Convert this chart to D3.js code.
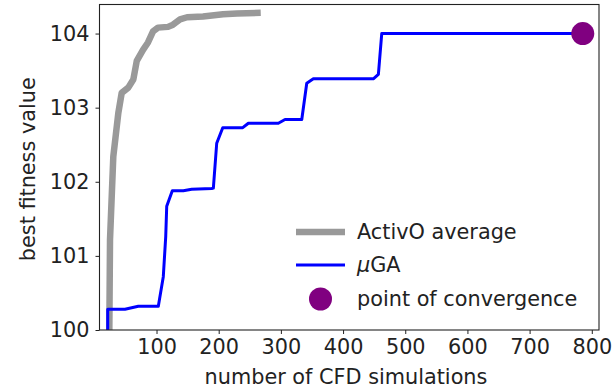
<!DOCTYPE html>
<html>
<head>
<meta charset="utf-8">
<script src="https://cdn.jsdelivr.net/npm/d3@7"></script>
<style>
  html, body { margin: 0; padding: 0; background: #fff; }
  svg { display: block; font-family: "DejaVu Sans", sans-serif; }
</style>
</head>
<body>
<svg id="chart" width="613" height="389"></svg>
<script>
// ActivO average: best fitness vs. number of CFD simulations
const activoX = [24.1, 25.2, 30.5, 38.6, 44.0, 54.6, 62.7, 68.2, 78.3, 86.3, 94.4, 102.4, 118.5, 126.5, 137.8, 149.1, 174.8, 207.0, 229.5, 267.6];
const activoY = [100, 101.22, 102.34, 102.93, 103.2, 103.27, 103.38, 103.63, 103.78, 103.88, 104.03, 104.08, 104.09, 104.12, 104.19, 104.22, 104.23, 104.26, 104.27, 104.28];

// micro-GA best fitness history
const mugaX = [21.5, 21.5, 49.3, 70.7, 102.9, 110.9, 114.8, 116.4, 125.4, 143.1, 156.6, 188.8, 191.4, 196.8, 206.5, 238.7, 247.7, 295.9, 306.7, 333.6, 341.6, 352.2, 448.7, 456.8, 462.2, 785.5];
const mugaY = [100, 100.28, 100.28, 100.32, 100.32, 100.72, 101.26, 101.67, 101.88, 101.88, 101.90, 101.91, 101.915, 102.52, 102.73, 102.73, 102.79, 102.79, 102.84, 102.84, 103.33, 103.39, 103.39, 103.45, 104.0, 104.0];

// convergence point of the micro-GA
const convergenceX = [785.5];
const convergenceY = [104.0];

const xTicks = [100, 200, 300, 400, 500, 600, 700, 800];
const yTicks = [100, 101, 102, 103, 104];
const legendLabels = ["ActivO average", "\u03BCGA", "point of convergence"];

const svg = d3.select("#chart");
const plotLeft = 99.5, plotRight = 599, plotTop = 4.5, plotBottom = 330;
const fontSize = "20.8px";

const x = d3.scaleLinear().domain([8.3, 811.6]).range([plotLeft, plotRight]);
const y = d3.scaleLinear().domain([100, 104.392]).range([plotBottom, plotTop]);

svg.append("defs").append("clipPath").attr("id", "plotclip")
  .append("rect").attr("x", plotLeft).attr("y", plotTop)
  .attr("width", plotRight - plotLeft).attr("height", plotBottom - plotTop);

const plot = svg.append("g").attr("clip-path", "url(#plotclip)");

const line = d3.line().x(d => x(d[0])).y(d => y(d[1]));

plot.append("path")
  .datum(activoX.map((v, i) => [v, activoY[i]]))
  .attr("d", line)
  .attr("fill", "none")
  .attr("stroke", "#999999")
  .attr("stroke-width", 6.5)
  .attr("stroke-linejoin", "round")
  .attr("stroke-linecap", "butt");

plot.append("path")
  .datum(mugaX.map((v, i) => [v, mugaY[i]]))
  .attr("d", line)
  .attr("fill", "none")
  .attr("stroke", "#0000ff")
  .attr("stroke-width", 3)
  .attr("stroke-linejoin", "round");

svg.selectAll("circle.conv")
  .data(convergenceX.map((v, i) => [v, convergenceY[i]]))
  .join("circle")
  .attr("class", "conv")
  .attr("cx", d => x(d[0]))
  .attr("cy", d => y(d[1]))
  .attr("r", 11.5)
  .attr("fill", "#800080");

// axes
const xAxis = d3.axisBottom(x).tickValues(xTicks).tickSize(4).tickPadding(5).tickFormat(d3.format("d"));
const yAxis = d3.axisLeft(y).tickValues(yTicks).tickSize(4).tickPadding(6).tickFormat(d3.format("d"));

const gx = svg.append("g").attr("transform", `translate(0,${plotBottom})`).call(xAxis);
const gy = svg.append("g").attr("transform", `translate(${plotLeft},0)`).call(yAxis);
[gx, gy].forEach(g => {
  g.select(".domain").remove();
  g.selectAll("line").attr("stroke", "#222").attr("stroke-width", 1);
  g.selectAll("text").attr("fill", "#222").style("font-size", fontSize).style("font-family", "DejaVu Sans");
});

// frame
svg.append("rect")
  .attr("x", plotLeft).attr("y", plotTop)
  .attr("width", plotRight - plotLeft).attr("height", plotBottom - plotTop)
  .attr("fill", "none").attr("stroke", "#222").attr("stroke-width", 1.1);

// axis titles
svg.append("text")
  .attr("x", 346).attr("y", 384)
  .attr("text-anchor", "middle")
  .attr("fill", "#222").style("font-size", fontSize)
  .text("number of CFD simulations");

svg.append("text")
  .attr("transform", `translate(35,${(plotTop + plotBottom) / 2 + 2}) rotate(-90)`)
  .attr("text-anchor", "middle")
  .attr("fill", "#222").style("font-size", fontSize)
  .text("best fitness value");

// legend
const lg = svg.append("g");
const lx0 = 296, lx1 = 345, tx = 357;
const ly = [232, 265, 299];
lg.append("line").attr("x1", lx0).attr("x2", lx1).attr("y1", ly[0]).attr("y2", ly[0])
  .attr("stroke", "#999999").attr("stroke-width", 6.5);
lg.append("line").attr("x1", lx0).attr("x2", lx1).attr("y1", ly[1]).attr("y2", ly[1])
  .attr("stroke", "#0000ff").attr("stroke-width", 3);
lg.append("circle").attr("cx", (lx0 + lx1) / 2).attr("cy", ly[2]).attr("r", 11.5).attr("fill", "#800080");

legendLabels.forEach((t, i) => {
  const txt = lg.append("text")
    .attr("x", tx).attr("y", ly[i])
    .attr("dy", "0.35em")
    .attr("fill", "#222").style("font-size", fontSize);
  if (i === 1) {
    txt.append("tspan").style("font-style", "italic").text(t[0]);
    txt.append("tspan").text(t.slice(1));
  } else {
    txt.text(t);
  }
});
</script>
</body>
</html>
